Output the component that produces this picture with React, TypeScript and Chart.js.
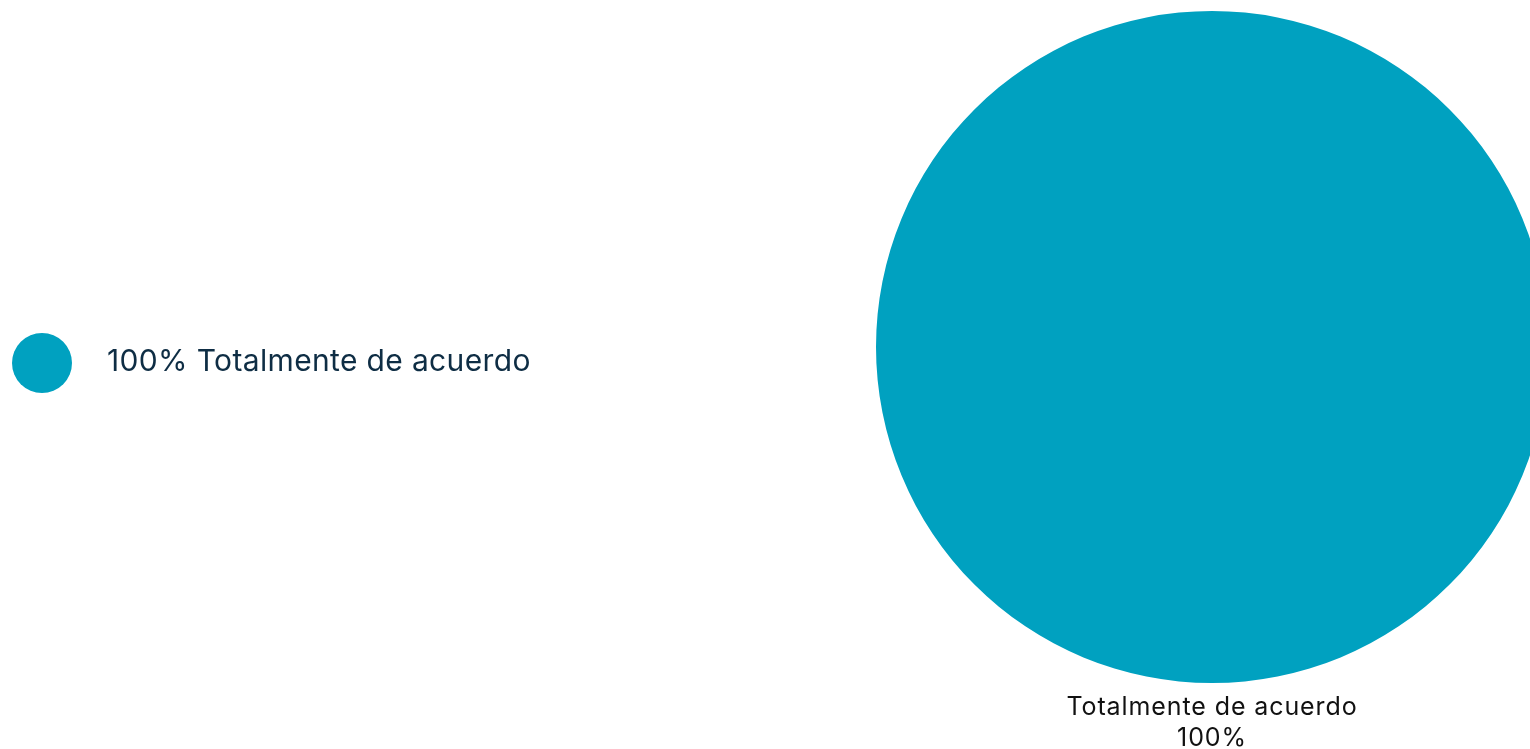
import React, { useEffect, useRef } from "react";
import { Chart, registerables } from "chart.js";

Chart.register(...registerables);

const categories = ["Totalmente de acuerdo"];
const values = [100];
const percentLabels = ["100%"];
const colors = ["#00a1c0"];

const FONT = "Inter, 'Noto Sans', sans-serif";

const sideLegend = {
  id: "sideLegend",
  afterDraw(chart: any) {
    const { ctx } = chart;
    const ds = chart.data.datasets[0];
    ctx.save();
    const n = chart.data.labels.length;
    const cy0 = 363 - ((n - 1) * 70) / 2;
    chart.data.labels.forEach((lab: string, i: number) => {
      const cy = cy0 + i * 70;
      ctx.beginPath();
      ctx.fillStyle = ds.backgroundColor[i];
      ctx.arc(42, cy, 30, 0, Math.PI * 2);
      ctx.fill();
      ctx.fillStyle = "#0e2d44";
      ctx.font = `400 30px ${FONT}`;
      (ctx as any).letterSpacing = "0.35px";
      ctx.textBaseline = "middle";
      ctx.textAlign = "left";
      ctx.fillText(`${percentLabels[i]} ${lab}`, 107, cy - 1);
    });
    // labels under the pie
    const meta = chart.getDatasetMeta(0);
    meta.data.forEach((arc: any, i: number) => {
      const x = arc.x;
      const y = arc.y + arc.outerRadius;
      ctx.fillStyle = "#111111";
      ctx.font = `400 25px ${FONT}`;
      (ctx as any).letterSpacing = "0.9px";
      ctx.textAlign = "center";
      ctx.textBaseline = "middle";
      ctx.fillText(chart.data.labels[i], x, y + 24);
      ctx.fillText(percentLabels[i], x, y + 55);
    });
    ctx.restore();
  },
};

export default function App() {
  const ref = useRef<HTMLCanvasElement | null>(null);
  useEffect(() => {
    document.body.style.margin = "0";
    document.body.style.overflow = "hidden";
    const chart = new Chart(ref.current as HTMLCanvasElement, {
      type: "pie",
      data: {
        labels: categories,
        datasets: [
          {
            data: values,
            backgroundColor: colors,
            borderWidth: 0,
          },
        ],
      },
      options: {
        animation: false,
        responsive: false,
        layout: { padding: { left: 876, right: 52, top: 11, bottom: 66 } },
        plugins: {
          legend: { display: false },
          tooltip: { enabled: false },
        },
      },
      plugins: [sideLegend],
    });
    return () => chart.destroy();
  }, []);
  return (
    <div style={{ position: "fixed", left: 0, top: 0, width: 1600, height: 749, overflow: "hidden" }}>
      <canvas ref={ref} width={1600} height={749} style={{ width: 1600, height: 749 }} />
    </div>
  );
}
